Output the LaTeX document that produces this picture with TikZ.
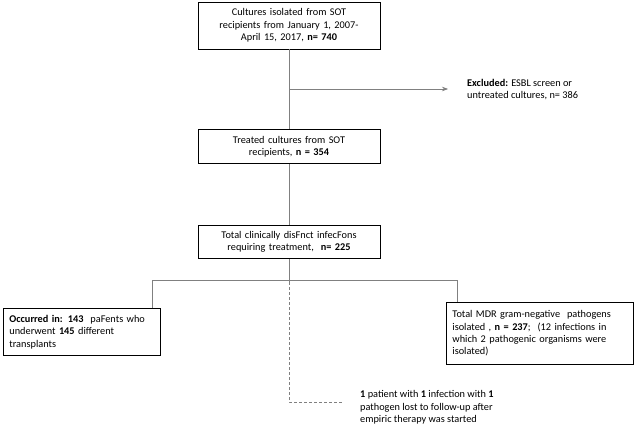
\documentclass[tikz,border=0pt]{standalone}
\usepackage{fontspec}
\setmainfont{Carlito}
\usetikzlibrary{arrows.meta, positioning}

\tikzset{
  box/.style = {draw, line width=0.8pt, align=center, inner xsep=5pt, inner ysep=4pt,
                text width=172pt, font=\fontsize{10.3}{12.4}\selectfont},
  sidebox/.style = {box, align=left, inner xsep=6pt},
  note/.style = {align=left, inner sep=0pt, font=\fontsize{10.3}{12.4}\selectfont},
  link/.style = {draw=gray, line width=0.7pt},
}

\begin{document}
\begin{tikzpicture}[x=1pt, y=-1pt, > = {Stealth[length=6pt, width=4.5pt, fill=black!80]}]
    \useasboundingbox (0,0) rectangle (636,428);

    \node[box, minimum height=47pt]                      (cult)  at (289,25.5)  {Cultures isolated from SOT\\ recipients from January 1, 2007-\\ April 15, 2017, \textbf{n= 740}};
    \node[box, minimum height=34pt, below=80pt of cult]  (treat)                {Treated cultures from SOT\\ recipients, \textbf{n = 354}};
    \node[box, minimum height=33pt, below=61pt of treat] (total)                {Total clinically disFnct infecFons\\ requiring treatment,\ \ \textbf{n= 225}};
    \node[sidebox, text width=145pt, minimum height=47pt, anchor=north west] (occ) at (3,308)   {\textbf{Occurred in: 143}\ \ paFents who\\ underwent \textbf{145} different\\ transplants};
    \node[sidebox, text width=175pt, minimum height=62pt, anchor=north west] (mdr) at (446,302) {Total MDR gram-negative\ \ pathogens\\ isolated , \textbf{n = 237};\ \ (12 infections in\\ which 2 pathogenic organisms were\\ isolated)};

    \node[note, anchor=west] (excl) at (467,89.5)  {\textbf{Excluded:} ESBL screen or\\ untreated cultures, n= 386};
    \node[note, anchor=west] (lost) at (360,407.5) {\textbf{1} patient with \textbf{1} infection with \textbf{1}\\ pathogen lost to follow-up after\\ empiric therapy was started};

    \coordinate[below=23pt of total] (split);
    \coordinate (split-l)   at (152,280);
    \coordinate (split-r)   at (457,280);
    \coordinate (excl-tip)  at (448,89);
    \coordinate (lost-end)  at (342,402);

    % main chain
    \draw[link] (cult) -- (treat);
    \draw[link] (treat) -- (total);
    \draw[link] (total) -- (split);
    \draw[link, ->] (cult.south |- excl-tip) -- (excl-tip);

    % branches
    \draw[link] (split-l |- occ.north) -- (split-l) -- (split-r) -- (split-r |- mdr.north);
    \draw[link, dash pattern=on 3pt off 2pt] (split) -- (split |- lost-end) -- (lost-end);
\end{tikzpicture}
\end{document}
